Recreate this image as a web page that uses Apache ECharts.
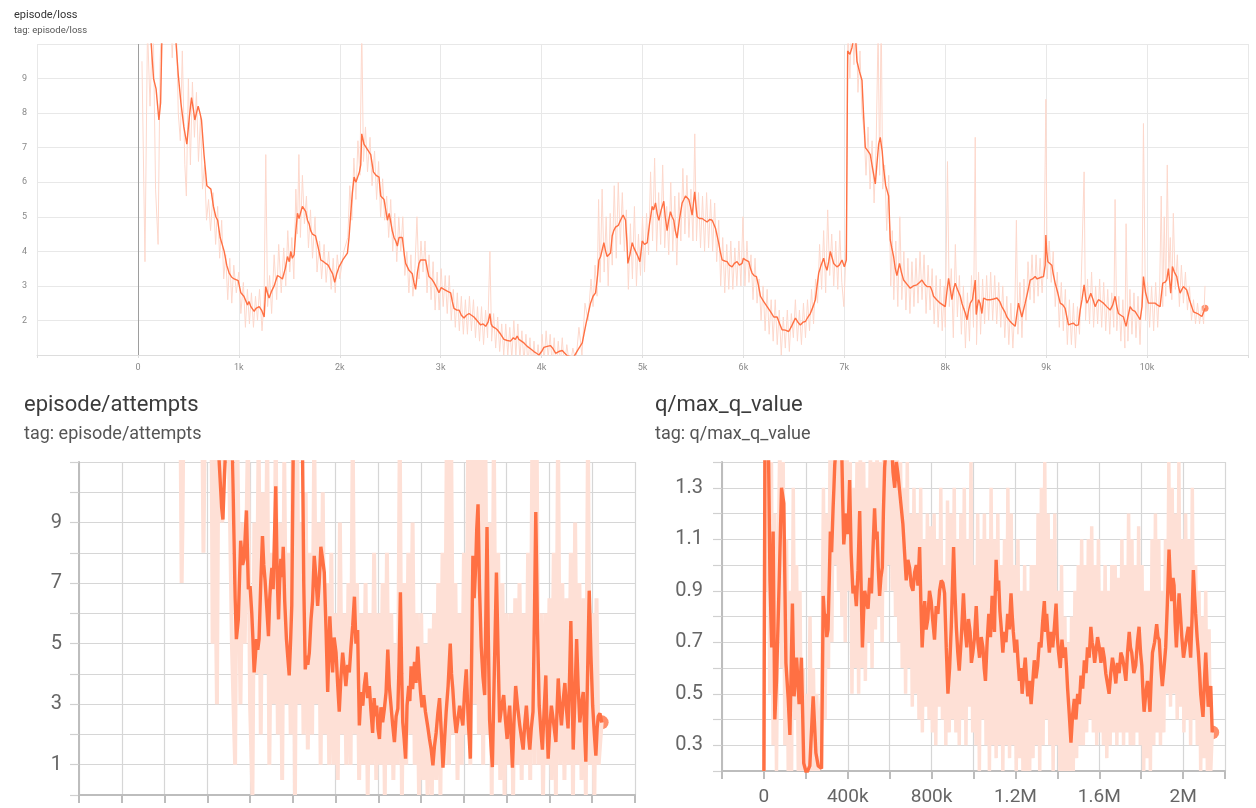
<!DOCTYPE html>
<html>
<head>
<meta charset="utf-8">
<script src="https://cdn.jsdelivr.net/npm/echarts@6.0.0/dist/echarts.min.js"></script>
<style>
  html, body { margin: 0; padding: 0; background: #fff; }
  #main { width: 1256px; height: 808px; }
</style>
</head>
<body>
<div id="main"></div>
<script>
// --- episode/loss : [step, valeur] --- //
const lossSmooth = [
  [0,12],[60,11.5],[120,10.5],[155,9.0],[180,8.7],[208,7.8],[225,8.3],[240,10.5],[290,12],[340,11],
  [376,10.1],[400,9.1],[426,8.3],[455,7.6],[485,7.1],[510,7.9],[531,8.45],[550,8.1],[564,7.8],[580,8.0],
  [597,8.2],[615,8.0],[630,7.8],[655,6.8],[683,5.9],[700,5.85],[723,5.8],[748,5.3],[772,5.0],[790,4.9],
  [815,4.4],[835,4.2],[855,4.0],[880,3.6],[904,3.37],[930,3.25],[954,3.2],[994,3.15],[1020,2.8],[1050,2.7],
  [1086,2.45],[1100,2.55],[1119,2.4],[1135,2.45],[1152,2.26],[1170,2.35],[1202,2.4],[1225,2.3],[1251,2.1],[1267,2.98],
  [1283,2.8],[1300,2.65],[1325,2.85],[1350,3.0],[1383,3.3],[1410,3.25],[1432,3.2],[1460,3.5],[1482,3.85],[1500,3.7],
  [1515,4.0],[1530,3.8],[1548,3.9],[1565,4.6],[1581,5.1],[1597,4.95],[1615,5.15],[1630,5.3],[1663,5.15],[1680,4.9],
  [1696,4.8],[1712,4.6],[1729,4.5],[1760,4.45],[1779,4.4],[1795,4.0],[1812,3.75],[1840,3.7],[1861,3.65],[1885,3.6],
  [1911,3.45],[1930,3.35],[1950,3.1],[1970,3.35],[1993,3.55],[2030,3.75],[2076,3.95],[2092,4.4],[2109,5.1],[2125,5.7],
  [2142,6.15],[2160,6.0],[2175,5.95],[2195,6.3],[2208,6.5],[2218,7.4],[2240,7.1],[2257,7.05],[2285,6.9],[2307,6.8],
  [2333,6.3],[2360,6.2],[2389,6.15],[2406,5.6],[2425,5.55],[2439,5.5],[2456,5.2],[2472,4.9],[2490,5.1],[2505,4.85],
  [2520,4.6],[2538,4.4],[2555,4.3],[2571,4.15],[2587,4.4],[2605,4.45],[2620,4.4],[2640,3.9],[2653,3.65],[2670,3.55],
  [2686,3.45],[2700,3.5],[2719,3.35],[2735,3.1],[2752,2.9],[2770,3.4],[2785,3.65],[2800,3.75],[2818,3.8],[2851,3.75],
  [2870,3.45],[2884,3.27],[2910,3.2],[2933,3.1],[2960,2.95],[2983,2.8],[3005,2.95],[3033,2.9],[3065,2.85],[3099,2.8],
  [3115,2.55],[3132,2.35],[3160,2.3],[3182,2.3],[3205,2.15],[3231,2.07],[3255,2.15],[3281,2.2],[3305,2.15],[3330,2.1],
  [3360,2.0],[3396,1.87],[3420,1.9],[3446,1.83],[3470,1.95],[3488,2.2],[3500,1.9],[3512,1.83],[3540,1.78],[3561,1.73],
  [3595,1.6],[3627,1.45],[3660,1.42],[3693,1.4],[3720,1.5],[3740,1.45],[3759,1.55],[3775,1.45],[3792,1.4],[3825,1.35],
  [3858,1.25],[3890,1.18],[3924,1.1],[3950,1.05],[3974,1.0],[4000,1.1],[4023,1.22],[4055,1.25],[4089,1.27],[4110,1.2],
  [4139,1.05],[4170,1.1],[4205,1.13],[4230,1.05],[4254,0.98],[4290,0.95],[4320,0.95],[4360,1.15],[4403,1.35],[4440,1.9],
  [4485,2.5],[4510,2.7],[4535,2.8],[4555,3.3],[4568,3.75],[4585,3.85],[4601,3.9],[4617,4.25],[4635,4.0],[4650,3.85],
  [4683,3.95],[4700,4.45],[4715,4.6],[4733,4.7],[4760,4.75],[4782,4.9],[4808,5.05],[4832,4.9],[4845,4.3],[4855,3.65],
  [4875,3.9],[4898,4.25],[4915,4.1],[4931,4.0],[4955,3.85],[4974,3.7],[4990,4.1],[4997,4.3],[5020,4.2],[5047,4.25],
  [5070,4.8],[5096,5.3],[5110,5.2],[5129,5.4],[5145,5.1],[5162,4.9],[5185,5.2],[5211,5.45],[5225,5.0],[5244,4.6],
  [5260,4.9],[5277,5.15],[5293,5.0],[5310,4.9],[5325,4.6],[5343,4.38],[5365,4.9],[5393,5.4],[5410,5.5],[5426,5.6],
  [5440,5.55],[5459,5.5],[5475,5.3],[5492,5.05],[5505,5.4],[5518,5.72],[5530,5.3],[5541,5.0],[5565,4.95],[5591,4.95],
  [5615,4.9],[5640,4.85],[5665,4.92],[5690,4.9],[5705,4.8],[5723,4.67],[5740,4.45],[5756,4.23],[5770,4.0],[5789,3.75],
  [5815,3.72],[5838,3.7],[5860,3.6],[5888,3.55],[5910,3.65],[5937,3.7],[5960,3.6],[5987,3.65],[6000,3.8],[6020,3.75],
  [6053,3.7],[6070,3.5],[6086,3.37],[6105,3.3],[6129,3.27],[6150,3.0],[6169,2.7],[6200,2.55],[6235,2.4],[6270,2.25],
  [6301,2.1],[6320,2.15],[6334,2.1],[6360,1.9],[6383,1.73],[6415,1.72],[6449,1.68],[6480,1.85],[6515,2.07],[6540,1.95],
  [6564,1.87],[6590,1.95],[6614,1.97],[6640,2.1],[6663,2.2],[6690,2.4],[6713,2.6],[6730,3.0],[6746,3.37],[6770,3.6],
  [6795,3.8],[6810,3.6],[6828,3.45],[6845,3.7],[6861,4.0],[6880,3.8],[6894,3.65],[6927,3.55],[6950,3.6],[6977,3.75],
  [7000,3.55],[7020,3.75],[7033,9.8],[7055,9.7],[7076,9.9],[7095,10.2],[7109,10.3],[7125,9.5],[7150,9.2],[7175,8.95],
  [7190,8.0],[7208,7.0],[7235,6.9],[7257,6.8],[7280,6.4],[7307,5.95],[7325,6.6],[7340,7.1],[7356,7.3],[7363,7.35],
  [7375,6.9],[7389,6.4],[7410,5.9],[7439,5.6],[7455,4.33],[7470,4.1],[7488,3.85],[7505,3.5],[7521,3.3],[7547,3.65],
  [7565,3.4],[7587,3.17],[7620,3.05],[7653,2.93],[7685,3.0],[7719,3.03],[7745,3.1],[7769,3.17],[7795,3.05],[7818,2.98],
  [7851,2.98],[7870,2.85],[7884,2.7],[7915,2.6],[7950,2.5],[7975,2.45],[8000,2.4],[8015,2.8],[8033,3.22],[8050,2.9],
  [8066,2.6],[8082,2.9],[8099,3.08],[8120,2.9],[8149,2.7],[8165,2.5],[8182,2.35],[8200,2.2],[8215,2.02],[8232,2.3],
  [8248,2.5],[8270,2.6],[8297,3.17],[8307,2.17],[8318,2.4],[8330,2.6],[8345,2.5],[8363,2.2],[8380,2.65],[8410,2.6],
  [8446,2.6],[8480,2.62],[8512,2.65],[8540,2.55],[8561,2.4],[8590,2.25],[8611,2.1],[8635,2.0],[8660,1.92],[8693,1.83],
  [8710,2.2],[8726,2.5],[8742,2.3],[8759,2.1],[8775,2.3],[8792,2.5],[8815,2.8],[8842,3.17],[8865,3.2],[8891,3.27],
  [8910,3.2],[8924,3.17],[8950,3.25],[8974,3.27],[8990,3.6],[8997,4.47],[9005,4.0],[9017,3.7],[9035,3.65],[9056,3.6],
  [9070,3.35],[9089,3.08],[9115,2.8],[9139,2.5],[9165,2.45],[9188,2.35],[9205,2.1],[9221,1.87],[9245,1.9],[9271,1.92],
  [9295,1.85],[9320,1.87],[9337,2.3],[9355,2.6],[9376,3.03],[9390,2.7],[9403,2.5],[9420,2.6],[9442,2.79],[9465,2.6],
  [9485,2.4],[9500,2.5],[9518,2.6],[9545,2.55],[9568,2.5],[9600,2.4],[9634,2.3],[9660,2.45],[9683,2.7],[9700,2.4],
  [9716,2.2],[9740,2.15],[9766,2.1],[9780,1.95],[9792,1.83],[9810,2.1],[9832,2.4],[9855,2.3],[9881,2.26],[9905,2.15],
  [9931,2.02],[9950,2.4],[9964,3.27],[9985,2.8],[10013,2.5],[10045,2.5],[10079,2.5],[10100,2.45],[10129,2.4],[10140,2.7],
  [10155,3.08],[10175,3.1],[10195,3.17],[10211,3.5],[10225,3.1],[10234,2.79],[10245,3.2],[10251,3.56],[10270,3.4],[10294,3.27],
  [10310,3.0],[10327,2.79],[10345,2.9],[10360,2.98],[10375,2.95],[10393,2.88],[10420,2.6],[10442,2.4],[10460,2.25],[10475,2.2],
  [10500,2.2],[10525,2.15],[10545,2.12],[10564,2.1],[10574,2.35]
];
const lossRaw = [
  [40,9.5],[70,3.7],[95,10.5],[120,8.2],[150,11],[175,5.8],[200,4.2],[220,9.5],[250,12],[280,10.8],
  [310,12],[340,9.6],[370,12],[400,8.0],[420,7.2],[440,9.8],[465,6.5],[480,5.6],[500,9.0],[520,6.5],
  [540,8.9],[560,7.3],[580,8.6],[600,6.6],[620,7.9],[640,5.8],[660,6.5],[680,4.9],[700,5.5],[720,4.6],
  [745,5.7],[770,4.2],[790,5.3],[810,3.8],[830,4.9],[850,3.2],[870,3.9],[890,2.6],[910,3.8],[930,2.5],
  [950,3.6],[975,2.8],[1000,3.4],[1020,2.2],[1045,3.1],[1065,1.8],[1085,2.9],[1105,1.9],[1125,2.8],[1145,1.8],
  [1165,2.7],[1185,2.0],[1205,2.9],[1230,1.7],[1250,2.6],[1267,6.8],[1285,2.4],[1305,3.3],[1325,2.2],[1350,3.9],
  [1375,2.6],[1395,4.2],[1420,2.8],[1445,4.1],[1465,3.0],[1485,4.6],[1505,3.4],[1525,4.4],[1545,3.2],[1565,5.8],
  [1580,4.5],[1595,6.8],[1610,4.4],[1630,6.2],[1650,4.8],[1670,5.6],[1690,4.1],[1710,5.2],[1730,3.8],[1755,5.0],
  [1775,3.4],[1800,4.3],[1820,3.2],[1845,4.2],[1865,3.1],[1890,4.0],[1915,2.9],[1935,3.8],[1955,2.8],[1975,3.9],
  [2000,3.2],[2040,4.0],[2080,4.4],[2100,5.9],[2120,4.9],[2140,6.7],[2160,5.5],[2180,7.2],[2200,6.2],[2218,10.5],
  [2235,6.6],[2255,7.6],[2275,6.3],[2300,7.3],[2320,5.9],[2345,6.9],[2365,5.5],[2385,6.6],[2405,5.0],[2425,6.1],
  [2445,4.9],[2465,5.6],[2485,4.4],[2505,5.5],[2525,4.0],[2545,5.1],[2565,3.7],[2585,5.0],[2605,4.0],[2625,5.0],
  [2645,3.3],[2665,4.0],[2685,2.8],[2705,3.9],[2725,2.7],[2745,3.5],[2765,5.0],[2785,3.2],[2805,4.3],[2825,3.4],
  [2845,4.3],[2865,2.8],[2885,3.9],[2905,2.6],[2925,3.7],[2945,2.3],[2965,3.4],[2985,2.3],[3005,3.5],[3025,2.4],
  [3045,3.3],[3065,2.2],[3085,3.3],[3105,2.0],[3125,2.9],[3145,1.8],[3165,2.8],[3185,1.7],[3205,2.7],[3225,1.6],
  [3245,2.6],[3265,1.6],[3285,2.7],[3305,1.7],[3325,2.6],[3345,1.5],[3365,2.4],[3385,1.4],[3405,2.4],[3425,1.3],
  [3445,2.3],[3465,1.5],[3488,4.0],[3505,1.4],[3525,2.2],[3545,1.2],[3565,2.1],[3585,1.1],[3605,1.9],[3625,1.0],
  [3645,1.9],[3665,1.0],[3685,1.8],[3705,0.9],[3725,2.0],[3745,1.0],[3765,1.9],[3785,0.9],[3805,1.7],[3825,0.8],
  [3845,1.6],[3865,0.7],[3885,1.5],[3905,0.6],[3925,1.4],[3945,0.6],[3965,1.3],[3985,0.6],[4005,1.6],[4025,0.8],
  [4045,1.7],[4065,0.9],[4085,1.6],[4105,0.7],[4125,1.5],[4145,0.6],[4165,1.4],[4185,0.7],[4205,1.5],[4225,0.6],
  [4250,1.3],[4280,0.6],[4310,1.2],[4340,0.8],[4370,1.8],[4400,1.0],[4430,2.5],[4460,2.0],[4490,3.2],[4510,2.4],
  [4530,3.6],[4550,2.7],[4565,5.5],[4580,3.1],[4600,5.8],[4620,3.4],[4640,5.0],[4660,3.0],[4680,5.1],[4700,3.6],
  [4720,5.9],[4740,3.8],[4760,6.0],[4780,4.2],[4800,5.7],[4820,4.0],[4840,5.2],[4860,2.9],[4880,4.8],[4900,3.2],
  [4920,5.3],[4940,3.0],[4960,4.5],[4980,3.3],[5000,5.0],[5020,3.4],[5040,5.1],[5060,3.9],[5080,6.3],[5100,4.3],
  [5120,6.7],[5140,4.0],[5160,5.7],[5180,4.2],[5200,6.5],[5220,4.1],[5240,5.3],[5260,3.9],[5280,6.0],[5300,4.0],
  [5320,5.6],[5340,3.6],[5360,5.7],[5380,4.3],[5400,6.4],[5420,4.5],[5440,6.2],[5460,4.4],[5480,5.8],[5500,4.3],
  [5518,7.4],[5535,4.3],[5555,5.7],[5575,4.1],[5595,5.6],[5615,4.0],[5635,5.7],[5655,4.1],[5675,5.5],[5695,4.0],
  [5715,5.4],[5735,3.7],[5755,4.9],[5775,3.0],[5795,4.4],[5815,2.8],[5835,4.2],[5855,2.9],[5875,4.3],[5895,2.9],
  [5915,4.1],[5935,3.0],[5955,4.3],[5975,3.0],[5995,5.0],[6015,3.0],[6035,4.3],[6055,3.1],[6075,3.9],[6095,2.6],
  [6115,3.8],[6135,2.5],[6155,3.2],[6175,2.0],[6195,3.0],[6215,1.7],[6235,2.9],[6255,1.6],[6275,2.6],[6295,1.4],
  [6315,2.6],[6335,1.3],[6355,2.3],[6375,1.0],[6395,2.1],[6415,1.2],[6435,2.3],[6455,1.1],[6475,2.2],[6495,1.5],
  [6515,2.6],[6535,1.4],[6555,2.3],[6575,1.3],[6595,2.5],[6615,1.5],[6635,2.6],[6655,1.7],[6675,2.9],[6695,1.9],
  [6715,3.2],[6735,2.5],[6755,4.2],[6775,2.9],[6795,4.6],[6815,2.8],[6835,5.2],[6855,3.3],[6875,4.5],[6895,3.0],
  [6915,4.3],[6935,2.9],[6955,4.6],[6975,3.1],[6995,2.4],[7020,4.2],[7035,10.5],[7055,9.0],[7075,11],[7095,9.4],
  [7115,11],[7135,8.6],[7155,9.8],[7175,8.0],[7195,7.5],[7215,6.2],[7235,7.6],[7255,5.8],[7275,7.2],[7295,5.4],
  [7315,7.0],[7335,10.5],[7350,6.2],[7365,11],[7380,5.8],[7400,6.5],[7420,4.6],[7440,6.2],[7460,3.0],[7475,4.6],
  [7490,2.6],[7510,4.3],[7530,2.4],[7550,5.0],[7570,2.6],[7590,4.0],[7610,2.3],[7630,3.8],[7650,2.2],[7670,3.7],
  [7690,2.4],[7710,3.8],[7730,2.5],[7750,4.0],[7770,2.6],[7790,3.9],[7810,2.2],[7830,3.6],[7850,2.3],[7870,3.5],
  [7890,1.9],[7910,3.3],[7930,1.8],[7950,3.2],[7970,1.7],[7990,3.0],[8000,1.8],[8022,6.6],[8040,2.4],[8060,3.5],
  [8080,1.5],[8100,4.2],[8120,2.1],[8140,3.3],[8160,1.6],[8180,3.0],[8200,1.2],[8220,2.8],[8240,1.4],[8260,3.3],
  [8280,1.8],[8297,7.3],[8310,1.3],[8330,3.4],[8350,1.6],[8370,3.2],[8390,1.9],[8410,3.3],[8430,2.0],[8450,3.4],
  [8470,2.0],[8490,3.3],[8510,1.9],[8530,3.1],[8550,1.8],[8570,3.0],[8590,1.5],[8610,2.7],[8630,1.3],[8650,2.5],
  [8670,1.2],[8690,2.4],[8705,4.9],[8720,1.6],[8740,3.1],[8760,1.5],[8780,3.2],[8800,2.0],[8820,3.7],[8840,2.6],
  [8860,3.9],[8880,2.5],[8900,3.9],[8920,2.7],[8940,3.8],[8960,2.8],[8980,4.0],[8997,8.4],[9010,3.2],[9030,4.3],
  [9050,3.1],[9070,4.0],[9090,2.4],[9110,3.4],[9130,1.8],[9150,3.1],[9170,1.7],[9190,2.9],[9210,1.3],[9230,2.6],
  [9250,1.3],[9270,2.5],[9290,1.2],[9310,2.4],[9330,1.6],[9350,3.4],[9376,6.3],[9390,2.0],[9410,3.2],[9430,1.9],
  [9450,3.4],[9470,1.8],[9490,3.0],[9510,1.9],[9530,3.2],[9550,1.8],[9570,3.1],[9590,1.7],[9610,2.9],[9630,1.6],
  [9650,2.8],[9670,1.8],[9683,5.5],[9700,1.7],[9720,2.7],[9740,1.4],[9760,2.6],[9780,1.2],[9792,4.8],[9810,1.4],
  [9830,2.9],[9850,1.6],[9870,2.8],[9890,1.5],[9910,2.7],[9930,1.3],[9950,2.9],[9964,7.7],[9985,2.0],[10005,3.1],
  [10025,1.8],[10045,3.0],[10065,1.7],[10085,3.1],[10105,1.8],[10125,3.0],[10140,5.6],[10155,2.4],[10170,5.0],[10185,2.7],
  [10200,6.5],[10215,3.3],[10230,4.4],[10245,2.6],[10260,5.1],[10280,2.9],[10300,3.9],[10320,2.4],[10340,3.6],[10360,2.5],
  [10380,3.4],[10400,2.3],[10420,3.0],[10440,2.0],[10460,2.6],[10480,1.9],[10500,2.5],[10520,1.9],[10540,2.4],[10560,1.9],
  [10574,3.0]
];

// --- episode/attempts : [step (k), valeur] --- //
const attemptsSmooth = [
  [275,13],[350,13],[454,11.2],[467,9.5],[473,9.1],[480,10.5],[486,11.5],[517,11.5],[525,8.4],[530,6.5],
  [536,5.15],[545,5.8],[556,8.4],[565,7.6],[572,7.8],[583,9.4],[592,6.8],[600,6.9],[608,6.0],[613,5.2],
  [619,4.05],[625,4.6],[630,5.15],[636,4.8],[642,5.15],[650,7.0],[658,8.55],[664,7.6],[670,7.1],[678,6.2],
  [686,5.25],[692,6.5],[697,7.1],[702,7.5],[708,6.8],[714,8.5],[720,10.2],[727,7.2],[733,5.8],[738,7.0],
  [744,7.8],[750,7.2],[755,8.2],[762,6.4],[770,5.15],[777,4.5],[783,3.95],[790,5.2],[795,6.25],[802,11.5],
  [845,11.5],[851,7.0],[858,4.15],[864,4.6],[870,4.3],[877,4.7],[885,5.8],[892,6.4],[900,7.9],[908,7.2],
  [916,6.25],[923,7.0],[931,8.2],[939,7.8],[947,7.35],[955,5.5],[963,3.4],[968,4.6],[973,5.9],[980,4.8],
  [986,4.05],[993,5.2],[1002,4.7],[1010,3.6],[1017,2.75],[1025,3.9],[1033,4.7],[1040,4.2],[1048,3.6],[1056,4.3],
  [1064,4.05],[1072,4.9],[1080,5.6],[1088,6.55],[1095,5.0],[1103,5.45],[1107,3.8],[1111,2.3],[1119,3.4],[1127,2.95],
  [1134,3.6],[1142,4.05],[1150,3.2],[1158,3.6],[1165,2.8],[1173,2.05],[1180,3.2],[1186,2.6],[1192,2.95],[1198,2.2],
  [1205,1.85],[1212,2.9],[1220,2.4],[1228,2.85],[1236,3.4],[1244,4.8],[1251,3.6],[1259,2.95],[1267,2.3],[1275,1.75],
  [1283,2.6],[1291,2.85],[1297,4.4],[1303,6.7],[1309,4.0],[1314,2.4],[1320,1.9],[1327,1.2],[1331,2.1],[1334,2.95],
  [1342,3.6],[1347,3.1],[1353,4.25],[1360,3.5],[1369,4.4],[1376,3.7],[1384,4.9],[1390,4.1],[1397,3.4],[1404,2.9],
  [1412,3.3],[1420,2.75],[1430,2.3],[1439,1.85],[1447,1.5],[1455,0.98],[1462,1.6],[1470,2.05],[1478,2.7],[1486,3.2],
  [1494,2.1],[1502,0.9],[1510,1.9],[1517,2.75],[1526,3.6],[1536,5.0],[1542,4.0],[1548,3.5],[1556,2.6],[1564,2.05],
  [1572,2.5],[1580,2.95],[1588,2.6],[1595,2.3],[1603,3.4],[1611,4.15],[1620,2.5],[1630,1.2],[1636,4.5],[1642,7.9],
  [1648,6.5],[1655,7.55],[1660,8.8],[1666,9.6],[1673,6.8],[1681,4.9],[1689,3.9],[1697,3.3],[1703,6.2],[1708,8.85],
  [1714,5.2],[1720,2.5],[1727,1.6],[1733,0.92],[1742,4.0],[1752,7.35],[1760,4.6],[1767,2.4],[1776,2.9],[1786,3.3],
  [1794,2.5],[1802,1.85],[1808,2.5],[1814,2.95],[1820,2.0],[1827,0.9],[1834,2.4],[1842,3.6],[1850,3.0],[1861,2.3],
  [1869,1.9],[1877,1.5],[1884,2.3],[1892,2.95],[1900,2.1],[1908,1.5],[1915,2.2],[1923,2.75],[1930,6.0],[1936,9.35],
  [1944,5.5],[1952,2.95],[1960,2.1],[1967,1.5],[1975,2.8],[1983,3.95],[1988,2.4],[1994,1.2],[2001,2.2],[2009,2.95],
  [2019,2.4],[2030,1.75],[2036,2.9],[2041,3.85],[2048,3.0],[2056,2.3],[2064,3.1],[2072,3.7],[2080,2.8],[2087,2.2],
  [2094,3.9],[2100,5.75],[2106,3.4],[2111,1.5],[2119,3.2],[2127,5.15],[2134,3.6],[2142,2.4],[2150,3.0],[2158,3.4],
  [2164,2.2],[2170,1.1],[2178,3.9],[2186,6.75],[2194,4.6],[2202,2.95],[2210,2.0],[2217,1.3],[2223,2.2],[2228,2.6],
  [2236,2.7],[2244,2.4]
];
const attemptsRaw = [
  [275,12],[280,7.0],[284,9.0],[288,12],[377,12],[382,8.0],[388,12],[420,12],[425,5.0],[432,12],
  [445,3.0],[452,12],[470,9],[480,12],[500,12],[515,5],[530,1.0],[540,12],[555,3],[565,9],
  [575,5],[590,12],[600,3.0],[611,0],[620,9],[630,4],[640,12],[650,2],[660,10],[670,4],
  [680,12],[690,1],[700,8],[710,3],[720,12],[730,2],[740,9],[750,0.5],[760,11],[770,3],
  [780,8],[790,2],[800,12],[810,0],[820,12],[830,3],[840,9],[850,2],[860,10],[870,1.5],
  [880,8],[890,2],[900,12],[910,3],[920,9],[930,1],[940,10],[950,2],[960,7],[970,1],
  [980,8],[990,1],[1000,6],[1010,0.5],[1020,9],[1030,2],[1040,6],[1050,1],[1060,7],[1070,1],
  [1080,12],[1090,2],[1100,7],[1110,0.5],[1120,6],[1130,1],[1140,7],[1150,0],[1160,6],[1170,1],
  [1180,8],[1190,0.5],[1200,6],[1210,1],[1220,7],[1230,0],[1240,8],[1250,1],[1260,6],[1270,0.5],
  [1280,5],[1290,1],[1300,12],[1310,0],[1320,7],[1330,1],[1340,8],[1350,2],[1360,9],[1370,1],
  [1380,6],[1390,0],[1400,6],[1410,0.5],[1420,5],[1430,0],[1440,5.5],[1450,0],[1460,6],[1470,0.5],
  [1480,7],[1490,0],[1500,8],[1510,1],[1520,12],[1530,1],[1540,12],[1550,2],[1560,7],[1570,0.5],
  [1580,6],[1590,1],[1600,8],[1610,2],[1620,12],[1630,1],[1640,12],[1650,3],[1660,12],[1670,2],
  [1680,12],[1690,1],[1700,12],[1710,2],[1720,9],[1730,0],[1740,12],[1750,1],[1760,8],[1770,0.5],
  [1780,7],[1790,0],[1800,6],[1810,1],[1820,6],[1830,0],[1840,6.5],[1850,1],[1860,7],[1870,0.5],
  [1880,6],[1890,1],[1900,8],[1910,0.5],[1920,12],[1930,1],[1940,12],[1950,1],[1960,6],[1970,0],
  [1980,6],[1990,1],[2000,6.5],[2010,0.5],[2020,8],[2030,0],[2040,12],[2050,1],[2060,7],[2070,0.5],
  [2080,6.5],[2090,1],[2100,8],[2110,0],[2120,9],[2130,1],[2140,7],[2150,0.5],[2160,6.5],[2170,0],
  [2180,12],[2190,1],[2200,6],[2210,0],[2220,6.5],[2230,1],[2244,2.4]
];

// --- q/max_q_value : [step (k), valeur] --- //
const qSmooth = [
  [0,0.2],[5,1.5],[21,1.5],[29,0.94],[37,0.68],[44,1.13],[52,0.4],[60,0.55],[73,0.94],[84,1.3],
  [95,1.24],[105,0.62],[116,0.48],[124,0.34],[136,0.85],[144,0.49],[156,0.64],[168,0.46],[179,0.64],[190,0.23],
  [203,0.19],[219,0.22],[235,0.49],[248,0.27],[259,0.22],[275,0.21],[283,0.88],[289,0.8],[295,0.81],[300,0.72],
  [306,0.75],[312,0.95],[317,1.13],[323,1.05],[330,1.22],[334,1.3],[338,1.39],[349,1.5],[370,1.5],[376,1.25],
  [381,1.08],[388,1.15],[394,1.2],[401,1.12],[409,1.33],[416,1.05],[425,0.89],[433,0.92],[441,0.84],[449,0.98],
  [457,1.21],[463,0.95],[470,0.68],[476,0.82],[481,0.9],[489,0.86],[497,0.83],[505,0.95],[513,0.89],[520,1.05],
  [528,1.22],[534,1.1],[540,1.13],[546,0.98],[552,0.88],[558,0.95],[565,0.99],[570,1.2],[576,1.38],[587,1.5],
  [608,1.5],[616,1.36],[624,1.3],[632,1.4],[640,1.35],[652,1.25],[663,1.16],[671,1.05],[679,0.94],[687,1.02],
  [695,0.99],[703,0.92],[711,0.9],[719,0.97],[727,1.0],[735,0.92],[743,1.07],[749,0.85],[755,0.68],[761,0.78],
  [767,0.86],[774,0.75],[782,0.79],[790,0.9],[798,0.86],[806,0.78],[814,0.71],[822,0.84],[830,0.81],[838,0.9],
  [846,0.94],[854,0.93],[862,0.89],[870,0.68],[878,0.5],[886,0.6],[894,0.76],[899,0.9],[905,1.07],[911,0.9],
  [918,0.76],[925,0.66],[932,0.59],[942,0.72],[952,0.89],[960,0.75],[968,0.68],[976,0.79],[984,0.74],[990,0.62],
  [997,0.66],[1005,0.72],[1013,0.84],[1021,0.7],[1029,0.64],[1037,0.72],[1045,0.68],[1051,0.6],[1057,0.55],[1065,0.7],
  [1073,0.81],[1081,0.72],[1089,0.88],[1095,0.8],[1100,0.74],[1104,0.9],[1108,1.02],[1114,0.9],[1120,0.94],[1126,0.82],
  [1132,0.76],[1140,0.66],[1147,0.74],[1155,0.7],[1163,0.81],[1171,0.75],[1179,0.89],[1185,0.8],[1190,0.74],[1198,0.66],
  [1206,0.71],[1213,0.62],[1219,0.55],[1226,0.6],[1232,0.5],[1240,0.58],[1247,0.64],[1253,0.56],[1259,0.49],[1267,0.55],
  [1275,0.46],[1283,0.55],[1290,0.63],[1298,0.56],[1306,0.61],[1314,0.7],[1322,0.68],[1330,0.78],[1338,0.86],[1344,0.74],
  [1349,0.81],[1356,0.72],[1362,0.66],[1370,0.74],[1378,0.68],[1386,0.76],[1394,0.85],[1400,0.72],[1406,0.66],[1414,0.6],
  [1422,0.71],[1430,0.64],[1438,0.68],[1444,0.6],[1449,0.52],[1457,0.42],[1465,0.31],[1473,0.42],[1481,0.48],[1489,0.4],
  [1497,0.5],[1505,0.46],[1513,0.57],[1521,0.52],[1529,0.63],[1537,0.58],[1544,0.68],[1552,0.64],[1560,0.76],[1566,0.7],
  [1571,0.68],[1578,0.62],[1584,0.66],[1592,0.72],[1600,0.68],[1608,0.62],[1616,0.68],[1624,0.64],[1631,0.58],[1639,0.54],
  [1647,0.5],[1655,0.58],[1663,0.64],[1671,0.6],[1679,0.54],[1687,0.62],[1695,0.58],[1703,0.66],[1711,0.64],[1719,0.6],
  [1727,0.55],[1735,0.66],[1743,0.74],[1749,0.68],[1755,0.66],[1765,0.58],[1774,0.61],[1782,0.7],[1790,0.76],[1797,0.66],
  [1803,0.61],[1809,0.5],[1814,0.43],[1822,0.5],[1830,0.55],[1836,0.5],[1842,0.43],[1848,0.56],[1854,0.66],[1864,0.7],
  [1874,0.77],[1880,0.72],[1886,0.71],[1894,0.6],[1901,0.53],[1909,0.6],[1917,0.68],[1925,0.85],[1933,1.06],[1940,0.92],
  [1946,0.86],[1952,0.95],[1957,0.92],[1962,0.78],[1968,0.68],[1975,0.8],[1981,0.89],[1988,0.8],[1994,0.72],[2002,0.64],
  [2009,0.68],[2017,0.72],[2025,0.76],[2031,0.7],[2036,0.64],[2043,0.8],[2049,0.98],[2055,0.88],[2060,0.81],[2067,0.72],
  [2073,0.66],[2079,0.58],[2084,0.5],[2090,0.45],[2095,0.41],[2102,0.55],[2108,0.66],[2114,0.55],[2120,0.45],[2126,0.48],
  [2132,0.53],[2139,0.35]
];
const qRaw = [
  [0,0.2],[5,1.5],[12,0.9],[20,1.5],[28,0.5],[36,1.4],[44,0.3],[52,1.2],[60,0.2],[68,1.0],
  [76,1.5],[84,0.6],[92,1.4],[100,0.3],[108,1.1],[116,0.2],[124,0.9],[132,0.2],[140,1.3],[148,0.4],
  [156,1.0],[164,0.2],[172,0.9],[180,0.2],[188,0.6],[196,0.2],[204,0.5],[212,0.2],[220,0.8],[228,0.2],
  [236,0.6],[244,0.2],[252,0.5],[260,0.2],[268,0.4],[276,0.5],[284,1.3],[292,0.4],[300,1.2],[308,0.6],
  [316,1.5],[324,0.7],[332,1.5],[340,1.0],[348,1.5],[356,0.9],[364,1.5],[372,0.8],[380,1.5],[388,0.7],
  [396,1.5],[404,0.9],[412,1.4],[420,0.5],[428,1.3],[436,0.6],[444,1.4],[452,0.5],[460,1.5],[468,0.6],
  [476,1.4],[484,0.55],[492,1.3],[500,0.7],[508,1.5],[516,0.6],[524,1.4],[532,0.75],[540,1.5],[548,0.8],
  [556,1.4],[564,0.7],[572,1.5],[580,0.9],[588,1.5],[596,1.0],[604,1.5],[612,0.9],[620,1.5],[628,0.8],
  [636,1.5],[644,0.7],[652,1.4],[660,0.6],[668,1.3],[676,0.5],[684,1.4],[692,0.6],[700,1.2],[708,0.45],
  [716,1.3],[724,0.5],[732,1.2],[740,0.4],[748,1.3],[756,0.35],[764,1.1],[772,0.45],[780,1.2],[788,0.4],
  [796,1.15],[804,0.35],[812,1.2],[820,0.3],[828,1.1],[836,0.45],[844,1.3],[852,0.4],[860,1.0],[868,0.3],
  [876,1.25],[884,0.35],[892,1.2],[900,0.4],[908,1.3],[916,0.35],[924,1.1],[932,0.3],[940,1.2],[948,0.4],
  [956,1.3],[964,0.3],[972,1.1],[980,0.45],[988,1.4],[996,0.35],[1004,1.0],[1012,0.3],[1020,1.2],[1028,0.2],
  [1036,1.1],[1044,0.4],[1052,1.2],[1060,0.3],[1068,1.1],[1076,0.2],[1084,1.3],[1092,0.3],[1100,1.1],[1108,0.25],
  [1116,1.2],[1124,0.3],[1132,1.0],[1140,0.2],[1148,1.1],[1156,0.3],[1164,1.3],[1172,0.25],[1180,1.2],[1188,0.3],
  [1196,1.0],[1204,0.2],[1212,1.1],[1220,0.25],[1228,0.9],[1236,0.2],[1244,1.0],[1252,0.2],[1260,0.9],[1268,0.2],
  [1276,1.0],[1284,0.25],[1292,1.0],[1300,0.3],[1308,1.2],[1316,0.2],[1324,1.3],[1332,0.3],[1340,1.4],[1348,0.4],
  [1356,1.2],[1364,0.3],[1372,1.1],[1380,0.2],[1388,1.2],[1396,0.3],[1404,0.9],[1412,0.2],[1420,1.0],[1428,0.2],
  [1436,0.8],[1444,0.2],[1452,0.7],[1460,0.2],[1468,0.8],[1476,0.2],[1484,0.9],[1492,0.25],[1500,1.0],[1508,0.3],
  [1516,1.1],[1524,0.3],[1532,1.0],[1540,0.35],[1548,1.1],[1556,0.4],[1564,1.15],[1572,0.35],[1580,1.0],[1588,0.3],
  [1596,1.1],[1604,0.35],[1612,0.9],[1620,0.3],[1628,1.0],[1636,0.25],[1644,0.9],[1652,0.3],[1660,1.0],[1668,0.35],
  [1676,1.0],[1684,0.3],[1692,0.95],[1700,0.35],[1708,1.1],[1716,0.3],[1724,1.0],[1732,0.35],[1740,1.2],[1748,0.3],
  [1756,1.1],[1764,0.3],[1772,1.0],[1780,0.35],[1788,1.15],[1796,0.3],[1804,1.0],[1812,0.2],[1820,0.9],[1828,0.25],
  [1836,0.9],[1844,0.2],[1852,1.1],[1860,0.3],[1868,1.2],[1876,0.35],[1884,1.1],[1892,0.3],[1900,0.9],[1908,0.35],
  [1916,1.1],[1924,0.5],[1932,1.4],[1940,0.45],[1948,1.3],[1956,0.5],[1964,1.2],[1972,0.4],[1980,1.4],[1988,0.45],
  [1996,1.1],[2004,0.35],[2012,1.2],[2020,0.4],[2028,1.1],[2036,0.3],[2044,1.3],[2052,0.4],[2060,1.0],[2068,0.3],
  [2076,0.9],[2084,0.2],[2092,0.8],[2100,0.25],[2108,0.9],[2116,0.2],[2124,0.75],[2132,0.2],[2139,0.35]
];

const ORANGE = '#ff7043';
const RAW_TOP = '#fdd8cc';
const RAW_BOTTOM = '#fee0d6';
const AXIS_GRAY = '#bdbdbd';

function lastPoint(arr) { return [arr[arr.length - 1]]; }

const chart = echarts.init(document.getElementById('main'));

const option = {
  animation: false,
  textStyle: { fontFamily: 'Roboto' },
  title: [
    { text: 'episode/loss', left: 9, top: 5, textStyle: { fontSize: 11, fontWeight: 'normal', color: '#333' } },
    { text: 'tag: episode/loss', left: 9, top: 21, textStyle: { fontSize: 9.5, fontWeight: 'normal', color: '#555' } },
    { text: 'episode/attempts', left: 19, top: 389, textStyle: { fontSize: 22, fontWeight: 'normal', color: '#3c3c3c' } },
    { text: 'tag: episode/attempts', left: 19, top: 420, textStyle: { fontSize: 18, fontWeight: 'normal', color: '#555' } },
    { text: 'q/max_q_value', left: 650, top: 389, textStyle: { fontSize: 22, fontWeight: 'normal', color: '#3c3c3c' } },
    { text: 'tag: q/max_q_value', left: 650, top: 420, textStyle: { fontSize: 18, fontWeight: 'normal', color: '#555' } }
  ],
  grid: [
    { left: 37, right: 8, top: 44, bottom: 453 },
    { left: 79, right: 621, top: 462, bottom: 13 },
    { left: 722, right: 31, top: 462, bottom: 37 }
  ],
  xAxis: [
    {
      gridIndex: 0, type: 'value', min: -1000, max: 11000, interval: 1000,
      axisLine: { show: true, lineStyle: { color: '#ddd' } },
      axisTick: { show: true, length: 3, lineStyle: { color: '#ddd' } },
      axisLabel: {
        fontSize: 9, color: '#888', margin: 8,
        formatter: v => (v < 0 || v > 10000) ? '' : (v === 0 ? '0' : (v / 1000) + 'k')
      },
      splitLine: { show: true, lineStyle: { color: '#e8e8e8' } }
    },
    {
      gridIndex: 1, type: 'value', min: -200, max: 2400, interval: 200,
      axisLine: { show: true, onZero: false, lineStyle: { color: AXIS_GRAY, width: 2 } },
      axisTick: { show: true, length: 8, lineStyle: { color: AXIS_GRAY, width: 2 } },
      axisLabel: { show: false },
      splitLine: { show: true, lineStyle: { color: '#d6d6d6', width: 1.2 } }
    },
    {
      gridIndex: 2, type: 'value', min: -200, max: 2200, interval: 200,
      axisLine: { show: true, onZero: false, lineStyle: { color: AXIS_GRAY, width: 2 } },
      axisTick: { show: true, length: 8, lineStyle: { color: AXIS_GRAY, width: 2 } },
      axisLabel: {
        fontSize: 19, color: '#666', margin: 17,
        formatter: v => {
          if (v % 400 !== 0 || v < 0) return '';
          if (v === 0) return '0';
          return v >= 1000 ? (v / 1000) + 'M' : v + 'k';
        }
      },
      splitLine: { show: true, lineStyle: { color: '#d6d6d6', width: 1.2 } }
    }
  ],
  yAxis: [
    {
      gridIndex: 0, type: 'value', min: 1, max: 10, interval: 1,
      axisLine: { show: false }, axisTick: { show: false },
      axisLabel: { fontSize: 9, color: '#888', margin: 10, formatter: v => (v === 1 || v === 10) ? '' : v },
      splitLine: { lineStyle: { color: '#e8e8e8' } }
    },
    {
      gridIndex: 1, type: 'value', min: 0, max: 11, interval: 1,
      axisLine: { show: true, onZero: false, lineStyle: { color: AXIS_GRAY, width: 2 } },
      axisTick: { show: true, length: 9, lineStyle: { color: '#d0d0d0', width: 1.2 } },
      axisLabel: { fontSize: 20, color: '#666', margin: 17, formatter: v => (v % 2 === 1 && v < 11) ? v : '' },
      splitLine: { lineStyle: { color: '#d6d6d6', width: 1.2 } }
    },
    {
      gridIndex: 2, type: 'value', min: 0.2, max: 1.4, interval: 0.1,
      axisLine: { show: true, onZero: false, lineStyle: { color: AXIS_GRAY, width: 2 } },
      axisTick: { show: true, length: 9, lineStyle: { color: '#d0d0d0', width: 1.2 } },
      axisLabel: {
        fontSize: 20, color: '#666', margin: 19,
        formatter: v => {
          const t = Math.round(v * 10);
          return (t % 2 === 1 && t < 14) ? (t / 10).toFixed(1) : '';
        }
      },
      splitLine: { lineStyle: { color: '#d6d6d6', width: 1.2 } }
    }
  ],
  series: [
    {
      name: 'loss raw', type: 'line', xAxisIndex: 0, yAxisIndex: 0, data: lossRaw,
      showSymbol: false, lineStyle: { color: RAW_TOP, width: 1 }, silent: true,
      markLine: {
        silent: true, symbol: 'none', label: { show: false },
        lineStyle: { color: '#9e9e9e', width: 1, type: 'solid' },
        data: [{ xAxis: 0 }]
      }
    },
    {
      name: 'loss', type: 'line', xAxisIndex: 0, yAxisIndex: 0, data: lossSmooth,
      showSymbol: false, lineStyle: { color: ORANGE, width: 1.4 }
    },
    {
      type: 'scatter', xAxisIndex: 0, yAxisIndex: 0, data: lastPoint(lossSmooth),
      symbolSize: 7, itemStyle: { color: ORANGE }
    },
    {
      name: 'attempts raw', type: 'line', xAxisIndex: 1, yAxisIndex: 1, data: attemptsRaw,
      showSymbol: false, lineStyle: { color: RAW_BOTTOM, width: 4 }, silent: true
    },
    {
      name: 'attempts', type: 'line', xAxisIndex: 1, yAxisIndex: 1, data: attemptsSmooth,
      showSymbol: false, lineStyle: { color: ORANGE, width: 3.4 }
    },
    {
      type: 'scatter', xAxisIndex: 1, yAxisIndex: 1, data: lastPoint(attemptsSmooth),
      symbolSize: 14, itemStyle: { color: ORANGE }
    },
    {
      name: 'q raw', type: 'line', xAxisIndex: 2, yAxisIndex: 2, data: qRaw,
      showSymbol: false, lineStyle: { color: RAW_BOTTOM, width: 3.5 }, silent: true
    },
    {
      name: 'q', type: 'line', xAxisIndex: 2, yAxisIndex: 2, data: qSmooth,
      showSymbol: false, lineStyle: { color: ORANGE, width: 3.4 }
    },
    {
      type: 'scatter', xAxisIndex: 2, yAxisIndex: 2, data: lastPoint(qSmooth),
      symbolSize: 14, itemStyle: { color: ORANGE }
    }
  ]
};

chart.setOption(option);
</script>
</body>
</html>
